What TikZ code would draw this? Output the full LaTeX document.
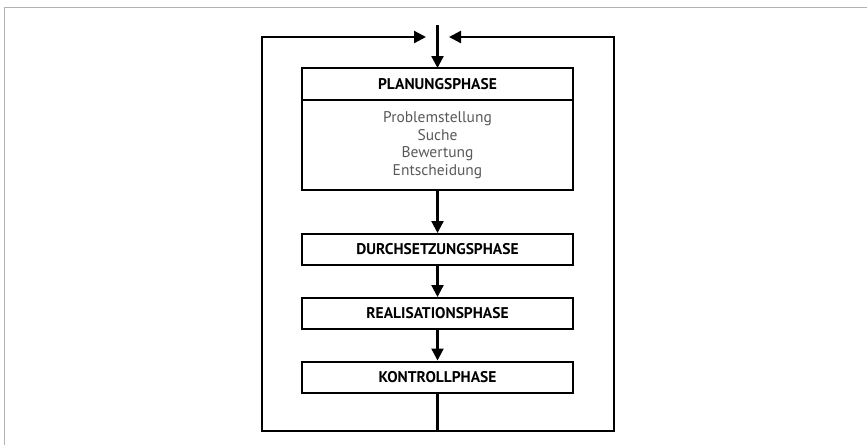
\documentclass[tikz,border=0pt]{standalone}
\usepackage{fontspec}
\setmainfont{PT Sans}
\usetikzlibrary{arrows.meta}
\begin{document}
\begin{tikzpicture}[x=1pt,y=-1pt,
  phase/.style={draw,line width=2pt,minimum width=271pt,anchor=north,inner sep=0pt,
    font=\bfseries\fontsize{15.5}{17}\selectfont},
  flow/.style={line width=2.3pt,line join=miter,-{Triangle[length=12pt,width=12pt]}},
  loopline/.style={line width=2.3pt}]
\useasboundingbox (0,0) rectangle (867,445);
% thin frame
\draw[gray!60,line width=1.5pt] (4.5,445) -- (4.5,7.5) -- (867,7.5);
% planning phase: header and content share one border line
\node[phase,outer sep=0pt,minimum height=32pt] (plan) at (437.5,68) {PLANUNGSPHASE};
\node[draw,line width=2pt,outer sep=0pt,minimum width=271pt,minimum height=90pt,anchor=north,inner sep=0pt,
  align=center,text=black!65,font=\fontsize{15.5}{17.5}\selectfont] (plantext) at (plan.south)
  {Problemstellung\\Suche\\Bewertung\\Entscheidung};
\node[phase,minimum height=31pt] (durch) at (437.5,233) {DURCHSETZUNGSPHASE};
\node[phase,minimum height=31pt] (real) at (437.5,297) {REALISATIONSPHASE};
\node[phase,minimum height=31pt] (kontr) at (437.5,360.5) {KONTROLLPHASE};
% feedback loop
\coordinate (bot) at (437.5,431);
\coordinate (bl) at (262,431);
\coordinate (tl) at (262,37);
\coordinate (tr) at (614,37);
\coordinate (br) at (614,431);
\coordinate (in) at (437.5,25);
\coordinate (ltip) at (426,37);
\coordinate (rtip) at (449,37);
\draw[loopline] (kontr.south) -- (bot);
\draw[flow] (bot) -- (bl) -- (tl) -- (ltip);
\draw[flow] (bot) -- (br) -- (tr) -- (rtip);
\draw[flow] (in) -- (plan.north);
\draw[flow] (plantext.south) -- (durch.north);
\draw[flow] (durch.south) -- (real.north);
\draw[flow] (real.south) -- (kontr.north);
\end{tikzpicture}
\end{document}
